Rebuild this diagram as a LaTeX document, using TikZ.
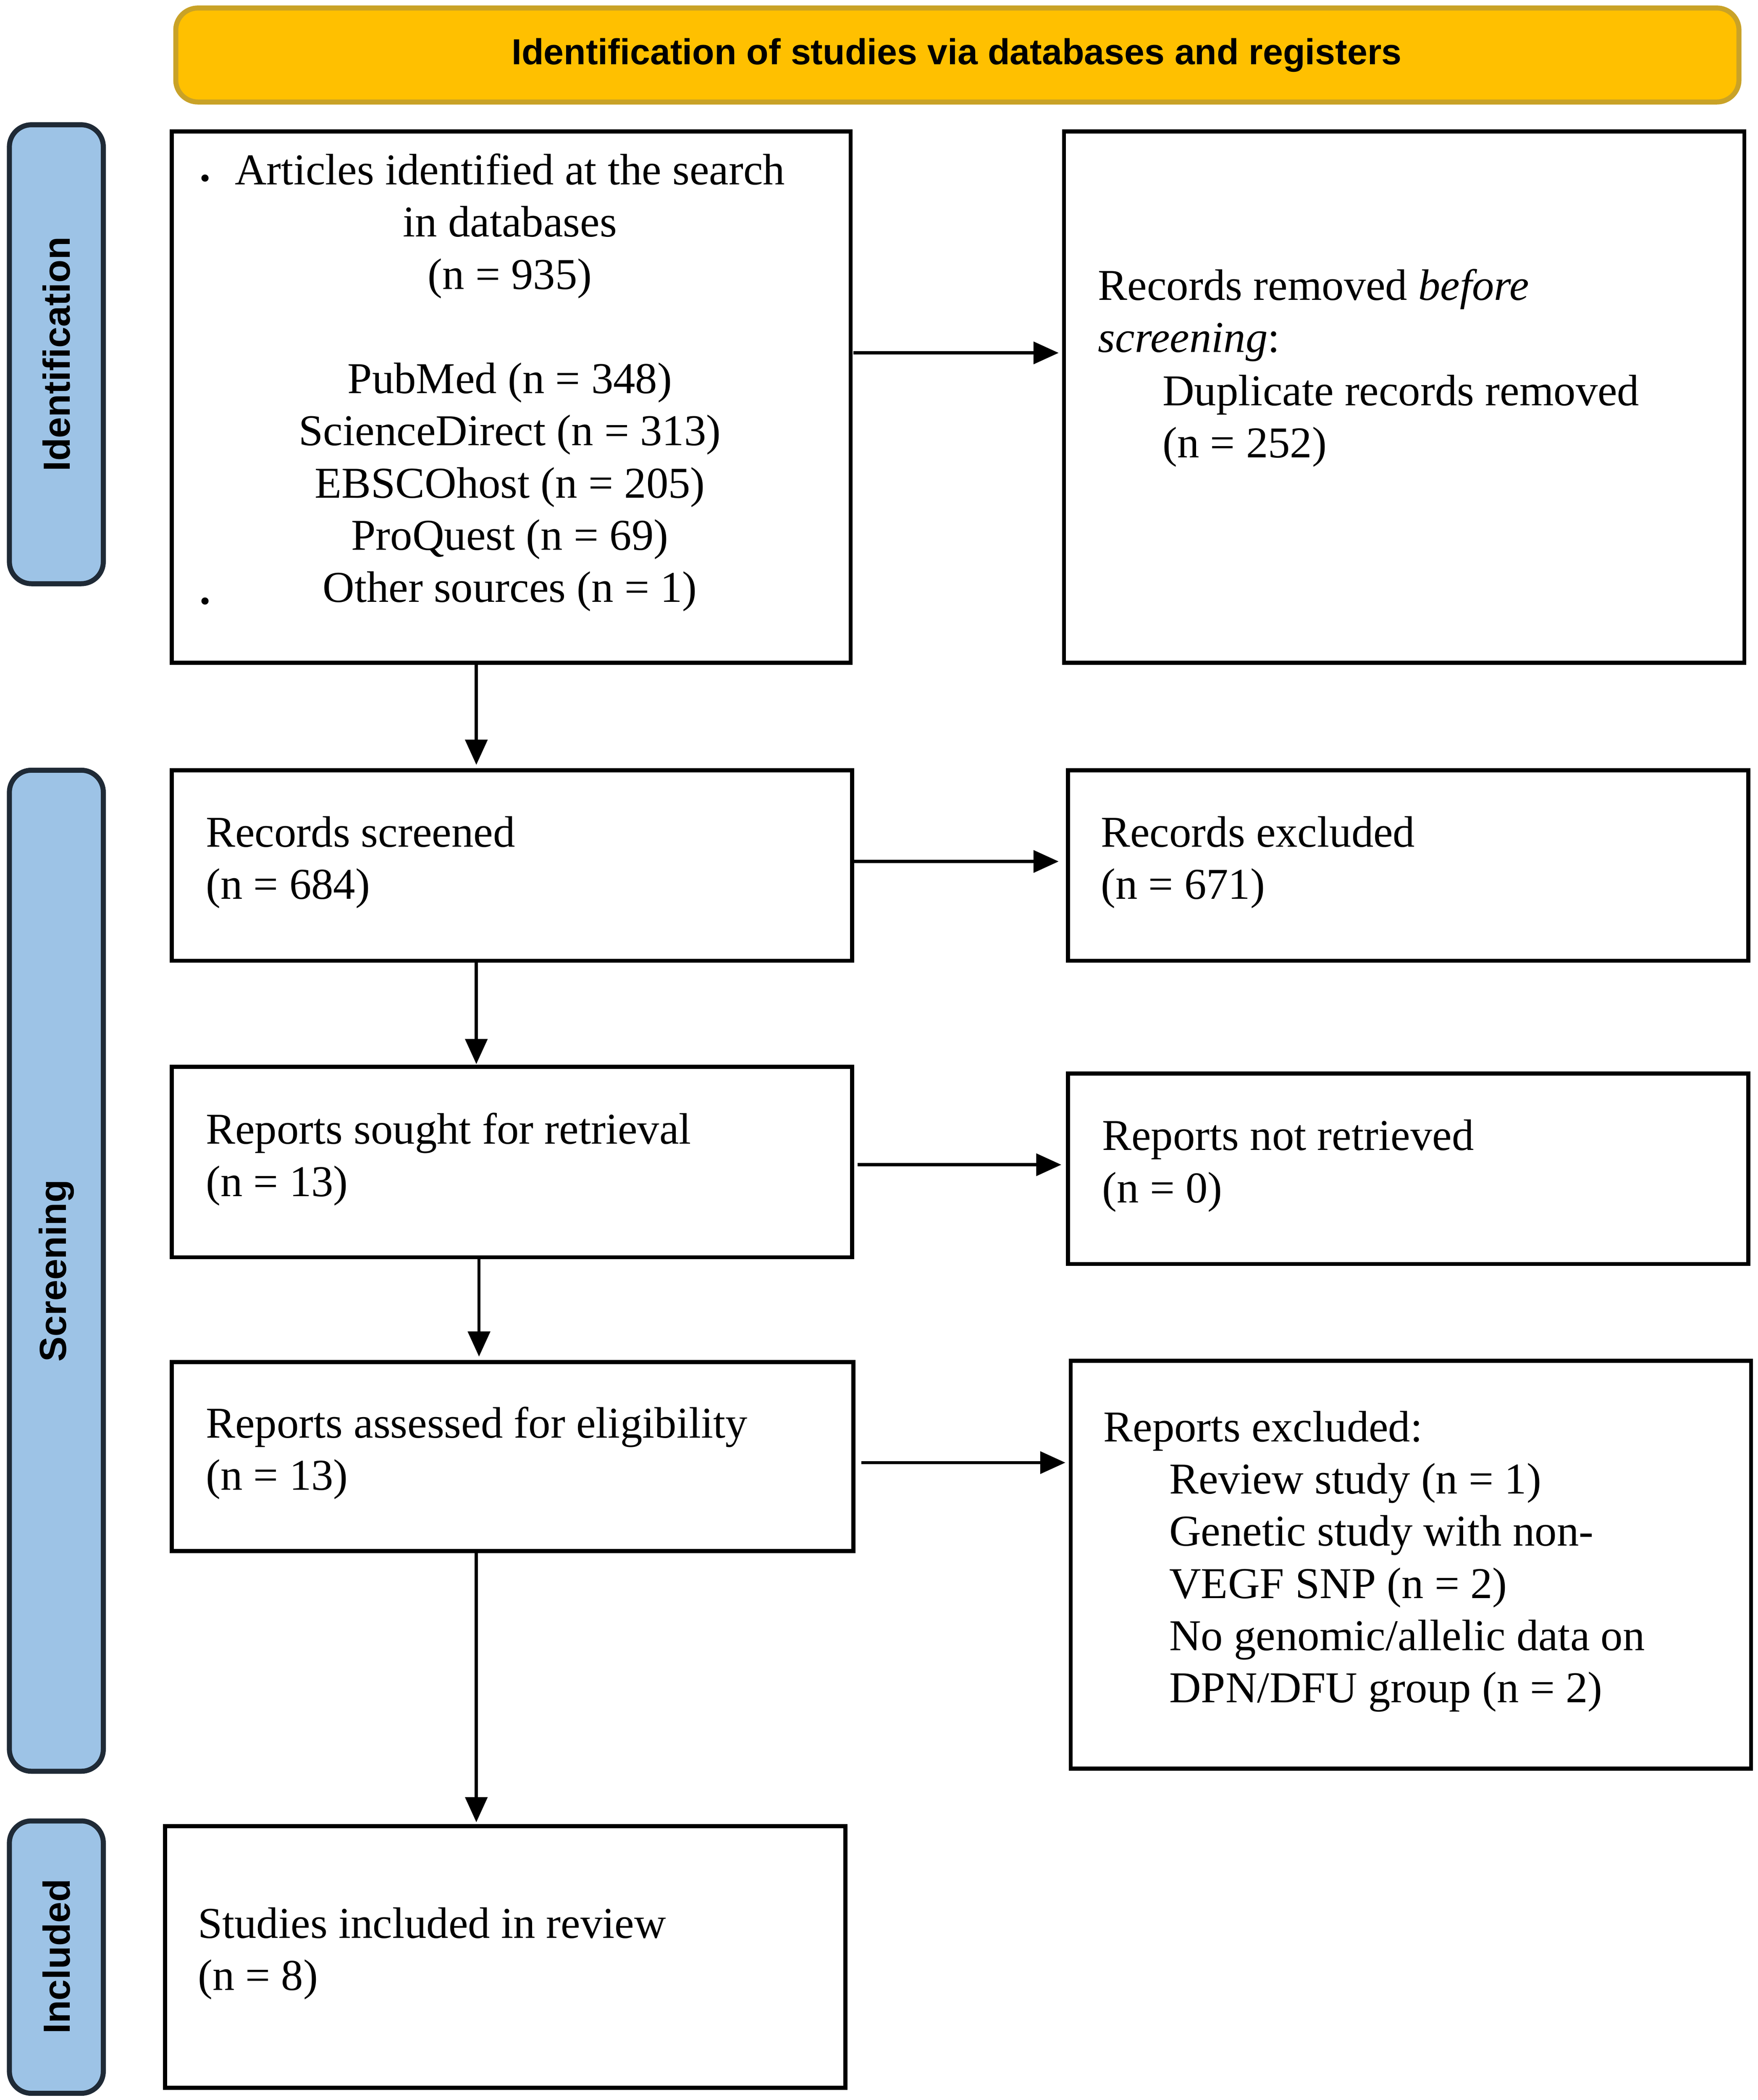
\documentclass[tikz,border=0pt]{standalone}
\usepackage{fontspec}
\setmainfont{Liberation Serif}
\newfontfamily\headfont{Liberation Sans}
\usetikzlibrary{arrows.meta}
\definecolor{headfill}{HTML}{FFC000}
\definecolor{headline}{HTML}{C9A227}
\definecolor{sidefill}{HTML}{9DC3E6}
\definecolor{sideline}{HTML}{1F2A36}
\tikzset{
  stepbox/.style={draw=black,line width=1.3pt,fill=white},
  sidebar/.style={draw=sideline,line width=1.6pt,fill=sidefill,rounded corners=7pt},
  sidetext/.style={font=\headfont\bfseries\fontsize{12}{14}\selectfont,rotate=90},
  boxtext/.style={inner sep=0pt,align=left,font=\fontsize{14}{16.6}\selectfont},
  arr/.style={-{Triangle[length=8pt,width=7pt]},line width=1pt},
}
\begin{document}
\begin{tikzpicture}[x=0.015cm,y=-0.015cm]
      \useasboundingbox (0,0) rectangle (1310,1565);
      % header and phase bars
      \draw[fill=headfill,draw=headline,line width=1.6pt,rounded corners=7pt] (131,6) rectangle (1296,76);
      \node[font=\headfont\bfseries\fontsize{11.5}{14}\selectfont] (head) at (713,41) {Identification of studies via databases and registers};
      \draw[sidebar] (7,93) rectangle (77,435);
      \draw[sidebar] (7,574) rectangle (77,1320);
      \draw[sidebar] (7,1357) rectangle (77,1560);
      \node[sidetext] (ident) at (42,264) {Identification};
      \node[sidetext] (screen) at (42,947) {Screening};
      \node[sidetext] (incl) at (42,1458) {Included};

      % boxes
      \draw[stepbox] (128,98) rectangle (634,494);
      \draw[stepbox] (793,98) rectangle (1300,494);
      \draw[stepbox] (128,574) rectangle (635,716);
      \draw[stepbox] (796,574) rectangle (1303,716);
      \draw[stepbox] (128,795) rectangle (635,937);
      \draw[stepbox] (796,800) rectangle (1303,942);
      \draw[stepbox] (128,1015) rectangle (636,1156);
      \draw[stepbox] (798,1014) rectangle (1305,1318);
      \draw[stepbox] (123,1361) rectangle (630,1556);

      % texts
      \node[boxtext,align=center,anchor=north] (found) at (380,114) {Articles identified at the search\\in databases\\(n = 935)\\[16.6pt]PubMed (n = 348)\\ScienceDirect (n = 313)\\EBSCOhost (n = 205)\\ProQuest (n = 69)\\Other sources (n = 1)};
      \node[font=\bfseries\fontsize{14}{16}\selectfont,inner sep=0pt] (dotA) at (153,133) {.};
      \node[font=\bfseries\fontsize{14}{16}\selectfont,inner sep=0pt] (dotB) at (153,448) {.};
      \node[boxtext,anchor=north west] (dupl) at (818,200) {Records removed \textit{before}\\\textit{screening}:};
      \node[boxtext,anchor=north west] (dupl2) at (866,279) {Duplicate records removed\\(n = 252)};
      \node[boxtext,anchor=north west] (scr) at (153,608) {Records screened\\(n = 684)};
      \node[boxtext,anchor=north west] (excl) at (820,608) {Records excluded\\(n = 671)};
      \node[boxtext,anchor=north west] (sought) at (153,829) {Reports sought for retrieval\\(n = 13)};
      \node[boxtext,anchor=north west] (notret) at (821,834) {Reports not retrieved\\(n = 0)};
      \node[boxtext,anchor=north west] (elig) at (153,1048) {Reports assessed for eligibility\\(n = 13)};
      \node[boxtext,anchor=north west] (rexcl) at (822,1051) {Reports excluded:};
      \node[boxtext,anchor=north west] (rexcl2) at (871,1090) {Review study (n = 1)\\Genetic study with non-\\VEGF SNP (n = 2)\\No genomic/allelic data on\\DPN/DFU group (n = 2)};
      \node[boxtext,anchor=north west] (incl2) at (147,1421) {Studies included in review\\(n = 8)};

      % arrow ends
      \coordinate (a1) at (636,263);  \coordinate (b1) at (789,263);
      \coordinate (a2) at (355,494);  \coordinate (b2) at (355,570);
      \coordinate (a3) at (636,642);  \coordinate (b3) at (789,642);
      \coordinate (a4) at (355,716);  \coordinate (b4) at (355,793);
      \coordinate (a5) at (639,868);  \coordinate (b5) at (791,868);
      \coordinate (a6) at (357,937);  \coordinate (b6) at (357,1011);
      \coordinate (a7) at (642,1090); \coordinate (b7) at (794,1090);
      \coordinate (a8) at (355,1156); \coordinate (b8) at (355,1358);
      \foreach \i in {1,...,8}
        \draw[arr] (a\i) -- (b\i);
\end{tikzpicture}
\end{document}
